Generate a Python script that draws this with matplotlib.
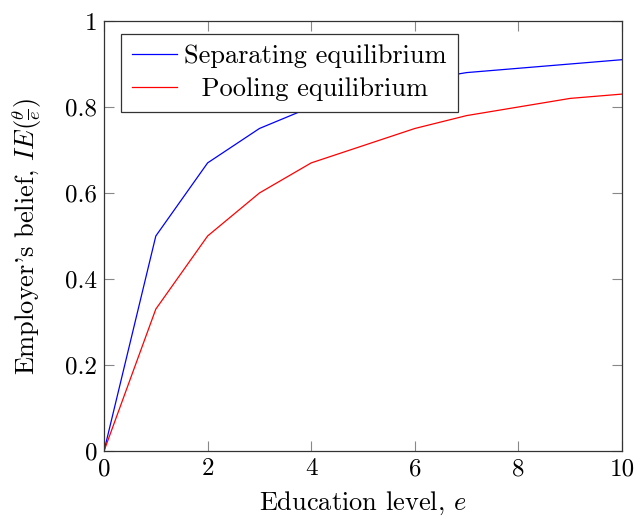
import matplotlib
matplotlib.use("Agg")
import matplotlib.pyplot as plt

plt.rcParams["font.family"] = "serif"
plt.rcParams["font.serif"] = ["cmr10"]
plt.rcParams["mathtext.fontset"] = "cm"
plt.rcParams["axes.formatter.use_mathtext"] = True

# education level and belief for each equilibrium
education = [0, 1, 2, 3, 4, 5, 6, 7, 8, 9, 10]
separating = [0, 0.5, 0.67, 0.75, 0.8, 0.83, 0.86, 0.88, 0.89, 0.90, 0.91]
pooling = [0, 0.33, 0.5, 0.6, 0.67, 0.71, 0.75, 0.78, 0.80, 0.82, 0.83]

xticks = [0, 2, 4, 6, 8, 10]
yticks = [0, 0.2, 0.4, 0.6, 0.8, 1]
ytick_labels = ["0", "0.2", "0.4", "0.6", "0.8", "1"]

fig = plt.figure(figsize=(6.37, 5.17), dpi=100)
ax = fig.add_axes([0.1633, 0.1277, 0.8132, 0.8317])

ax.plot(education, separating, color="blue", lw=0.9, label="Separating equilibrium")
# leading spaces centre the shorter entry under the longer one
ax.plot(education, pooling, color="red", lw=0.9, label="  Pooling equilibrium")

ax.set_xlim(0, 10)
ax.set_ylim(0, 1)
ax.set_xticks(xticks)
ax.set_xticklabels([str(t) for t in xticks])
ax.set_yticks(yticks)
ax.set_yticklabels(ytick_labels)
ax.tick_params(direction="in", top=True, right=True, length=7, width=0.8,
               color="#888888", labelsize=18, pad=5)
for s in ax.spines.values():
    s.set_linewidth(0.9)
    s.set_color("#333333")

ax.set_xlabel("Education level, $e$", fontsize=19, labelpad=7)
ax.set_ylabel(r"Employer's belief, $IE(\frac{\theta}{e})$", fontsize=19, labelpad=15)

leg = ax.legend(loc="upper left", bbox_to_anchor=(0.033, 0.97), borderaxespad=0,
                fontsize=19, fancybox=False, framealpha=1, edgecolor="#333333",
                handlelength=1.7, borderpad=0.4, labelspacing=0.35, handletextpad=0.3)
leg.get_frame().set_linewidth(0.9)

fig.savefig("out.png", dpi=100)
